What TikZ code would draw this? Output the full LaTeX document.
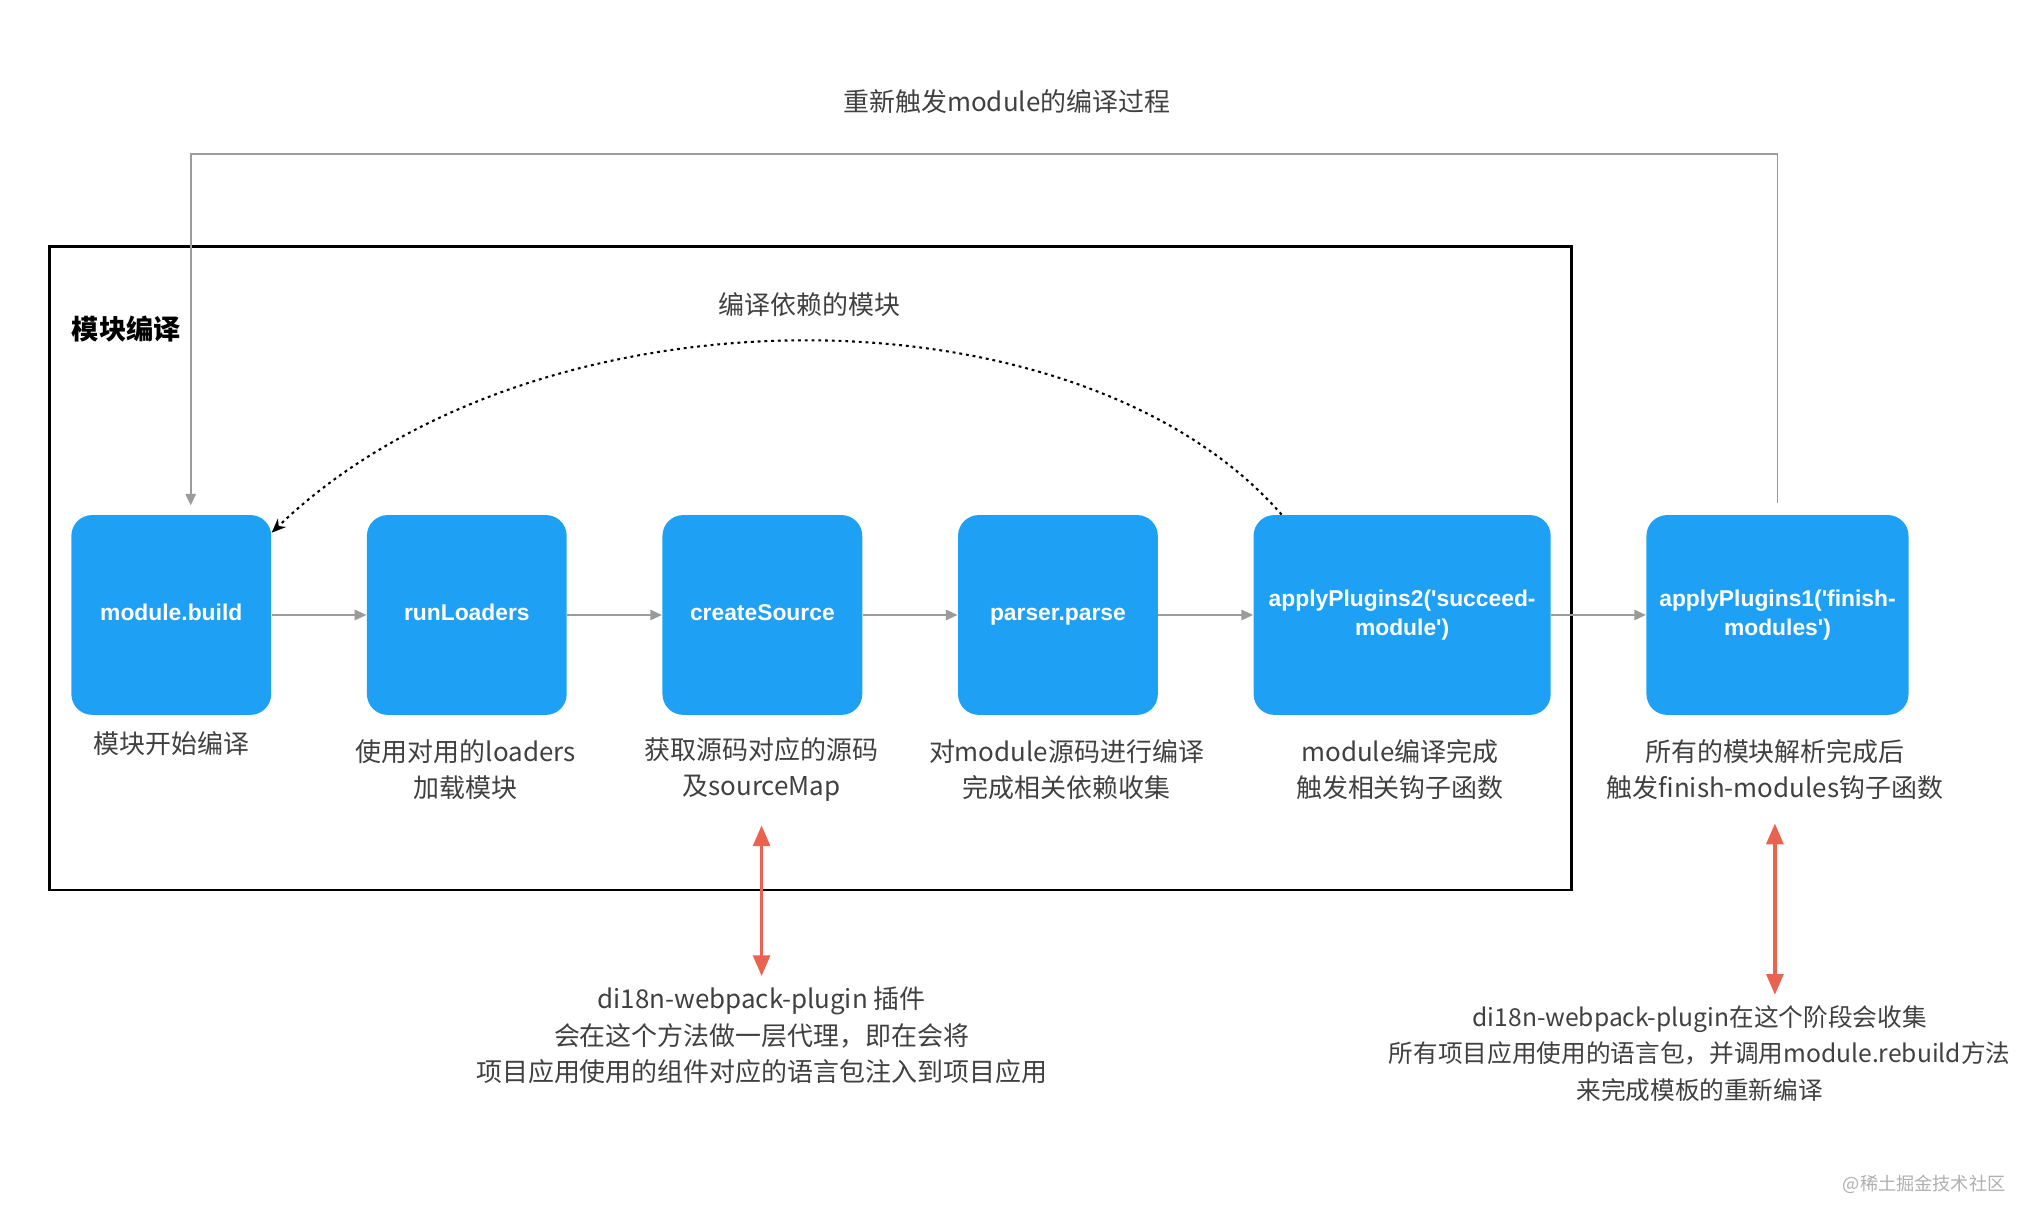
\documentclass[tikz,border=0pt]{standalone}
\usepackage{fontspec}
\setmainfont{Noto Sans CJK SC}
\newfontfamily\stagefont{Liberation Sans}
\usetikzlibrary{positioning}
\usetikzlibrary{arrows.meta}
\definecolor{stageblue}{RGB}{30,161,245}
\definecolor{flowgray}{RGB}{155,155,155}
\definecolor{pluginred}{RGB}{234,98,80}
\definecolor{notegray}{RGB}{64,64,64}
\tikzset{
  stage/.style={draw=none, fill=stageblue, rounded corners=8pt, minimum width=77pt,
    minimum height=77pt, inner sep=2pt, align=center, text=white,
    font=\stagefont\bfseries\fontsize{8.8}{11.5}\selectfont},
  note/.style={align=center, inner sep=0pt, text=notegray, font=\fontsize{10}{14}\selectfont},
  flow/.style={draw=flowgray, line width=0.75pt, -{Triangle[length=4.5pt,width=4pt]}},
  plugin/.style={draw=pluginred, line width=1.3pt, {Triangle[length=8pt,width=6.5pt]}-{Triangle[length=8pt,width=6.5pt]}},
  depend/.style={draw=black, line width=0.8pt, dash pattern=on 1.1pt off 1.5pt, -{Stealth[length=5.5pt,width=4.5pt]}},
}
\begin{document}
\begin{tikzpicture}[x=0.5pt, y=-0.5pt]
  \useasboundingbox (0,0) rectangle (1560,940);

  % module build frame
  \draw[line width=1pt] (38,190) rectangle (1211,686);
  \node[note, text=black, font=\bfseries\fontsize{10.5}{14}\selectfont, anchor=west] (frametitle) at (55,254) {模块编译};
  \node[note] (rebuildtitle) at (776,78) {重新触发module的编译过程};
  \node[note] (dependtitle) at (624,235) {编译依赖的模块};

  % stages
  \node[stage] (build) at (132,474) {\strut module.build};
  \node[stage, right=36.5pt of build] (loaders) {\strut runLoaders};
  \node[stage, right=36.5pt of loaders] (source) {\strut createSource};
  \node[stage, right=36.5pt of source] (parse) {\strut parser.parse};
  \node[stage, minimum width=114.5pt, right=36.5pt of parse] (succeed) {\strut applyPlugins2(\textquotesingle succeed-\\\strut module\textquotesingle)};
  \node[stage, minimum width=101pt, right=36.5pt of succeed] (finish) {\strut applyPlugins1(\textquotesingle finish-\\\strut modules\textquotesingle)};

  % captions
  \node[note] (buildnote) at (132,573) {模块开始编译};
  \node[note] (loadersnote) at (359,593) {使用对用的loaders\\加载模块};
  \node[note] (sourcenote) at (587,593) {获取源码对应的源码\\及sourceMap};
  \node[note] (parsenote) at (822,593) {对module源码进行编译\\完成相关依赖收集};
  \node[note] (succeednote) at (1079,593) {module编译完成\\触发相关钩子函数};
  \node[note] (finishnote) at (1368,593) {所有的模块解析完成后\\触发finish-modules钩子函数};

  % plugin notes
  \node[note] (proxynote) at (587,798) {di18n-webpack-plugin 插件\\会在这个方法做一层代理，即在会将\\项目应用使用的组件对应的语言包注入到项目应用};
  \node[note, font=\fontsize{9.5}{14}\selectfont] (collectnote) at (1310,812) {di18n-webpack-plugin在这个阶段会收集\\所有项目应用使用的语言包，并调用module.rebuild方法\\来完成模板的重新编译};
  \node[note, text=flowgray!80, font=\fontsize{7}{9}\selectfont] (mark) at (1483,913) {@稀土掘金技术社区};

  \draw[flow] (build) -- (loaders);
  \draw[flow] (loaders) -- (source);
  \draw[flow] (source) -- (parse);
  \draw[flow] (parse) -- (succeed);
  \draw[flow] (succeed) -- (finish);

  \draw[flow] ([yshift=4.5pt]finish.north) -- ++(0,-269) -| ([xshift=7.5pt,yshift=3.5pt]build.north);
  \draw[depend] ([xshift=11pt]succeed.north west) .. controls (830,216) and (411,216) .. ([yshift=-7pt]build.north east);

  \draw[plugin] ([yshift=-9pt]sourcenote.south) -- ([yshift=4pt]proxynote.north);
  \draw[plugin] ([yshift=-9pt]finishnote.south) -- ([yshift=4pt]finishnote.south |- collectnote.north);
\end{tikzpicture}
\end{document}
